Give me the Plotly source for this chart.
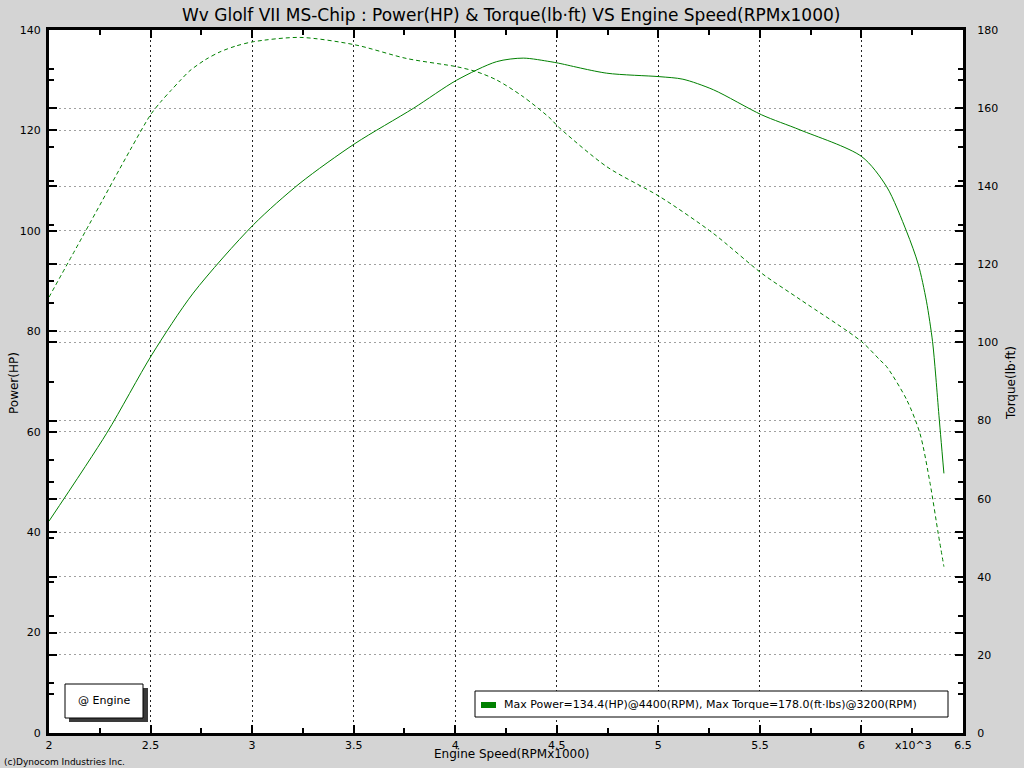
import plotly.graph_objects as go

# ---- data ----
power_rpm = [2.0, 2.284, 2.506, 2.710, 3.006, 3.236, 3.507, 3.794, 4.007, 4.204, 4.335, 4.467,
             4.508, 4.746, 5.008, 5.121, 5.271, 5.509, 5.698, 6.001, 6.124, 6.223, 6.280,
             6.320, 6.350, 6.365, 6.380, 6.406]
power_hp = [42.2, 59.7, 75.3, 87.6, 101.2, 109.5, 117.4, 124.4, 130.0, 133.7, 134.4, 133.7,
            133.4, 131.4, 130.7, 130.2, 128.1, 123.1, 120.1, 114.8, 108.8, 99.8, 93.3,
            86.0, 78.0, 71.5, 64.0, 51.7]

torque_rpm = [2.0, 2.2, 2.4, 2.5, 2.55, 2.6, 2.65, 2.694, 2.77, 2.842, 2.92, 3.006, 3.236, 3.507,
              3.761, 4.007, 4.106, 4.204, 4.335, 4.467, 4.508, 4.746, 5.008, 5.271, 5.509, 5.698,
              6.001, 6.091, 6.124, 6.223, 6.288, 6.338, 6.378, 6.406]
torque_lbft = [111.6, 130.4, 149.3, 158.3, 161.6, 164.5, 167.3, 169.6, 172.4, 174.4, 175.9, 177.0,
               178.1, 176.2, 172.7, 170.6, 169.3, 167.2, 162.9, 157.4, 155.2, 145.0, 137.3, 127.9,
               117.7, 111.0, 100.2, 95.5, 93.8, 85.3, 76.7, 63.9, 51.1, 42.6]

x_ticks = [2, 2.5, 3, 3.5, 4, 4.5, 5, 5.5, 6, 6.5]
x_tick_labels = ["2", "2.5", "3", "3.5", "4", "4.5", "5", "5.5", "6", "6.5"]

title_text = "Wv Glolf VII MS-Chip : Power(HP) & Torque(lb·ft) VS Engine Speed(RPMx1000)"
legend_text = "Max Power=134.4(HP)@4400(RPM), Max Torque=178.0(ft·lbs)@3200(RPM)"

# ---- layout geometry ----
W, H = 1024, 768
L, R, T, B = 49, 963, 30, 733
GREEN = "#008000"
FONT = "DejaVu Sans"


def px(x):
    return (x - L) / (R - L)


def py(y):
    return (B - y) / (B - T)


fig = go.Figure()
fig.add_trace(go.Scatter(x=power_rpm, y=power_hp, mode="lines",
                         line=dict(color=GREEN, width=1, shape="spline", smoothing=0.8),
                         yaxis="y", showlegend=False, hoverinfo="skip"))
fig.add_trace(go.Scatter(x=torque_rpm, y=torque_lbft, mode="lines",
                         line=dict(color=GREEN, width=1, dash="4px,3px", shape="spline", smoothing=0.8),
                         yaxis="y2", showlegend=False, hoverinfo="skip"))

axis_common = dict(showline=True, linecolor="black", linewidth=3, mirror="ticks", ticks="inside",
                   ticklen=8, tickwidth=2, tickcolor="black", zeroline=False, automargin=False,
                   tickfont=dict(family=FONT, size=11, color="black"))
H_GRID = dict(showgrid=True, gridcolor="#a0a0a0", griddash="2px,3px", gridwidth=1)

fig.update_layout(
    width=W, height=H,
    margin=dict(l=L, r=W - R, t=T, b=H - B, autoexpand=False),
    paper_bgcolor="#d4d4d4", plot_bgcolor="white",
    font=dict(family=FONT, color="black"),
    xaxis=dict(range=[2, 6.5], tickvals=x_ticks, ticktext=x_tick_labels,
               showgrid=True, gridcolor="#222222", griddash="2px,3px", gridwidth=1,
               minor=dict(dtick=0.25, ticks="inside", ticklen=5, tickwidth=2, tickcolor="black", showgrid=False),
               ticklabelstandoff=0, **axis_common),
    yaxis=dict(range=[0, 140], dtick=20,
               minor=dict(dtick=10, ticks="inside", ticklen=5, tickwidth=2, tickcolor="black", showgrid=False),
               ticklabelstandoff=3, **H_GRID, **axis_common),
    yaxis2=dict(range=[0, 180], dtick=20, overlaying="y", side="right",
                minor=dict(dtick=10, ticks="inside", ticklen=5, tickwidth=2, tickcolor="black", showgrid=False),
                ticklabelstandoff=9, **H_GRID, **axis_common),
    showlegend=False,
)

shapes = [
    # @ Engine box shadow and box
    dict(type="rect", xref="paper", yref="paper", x0=px(69), x1=px(148), y0=py(688), y1=py(722),
         fillcolor="#3a3a3a", line=dict(width=0)),
    dict(type="rect", xref="paper", yref="paper", x0=px(65), x1=px(143), y0=py(684), y1=py(718),
         fillcolor="white", line=dict(color="black", width=1)),
    # legend box
    dict(type="rect", xref="paper", yref="paper", x0=px(475), x1=px(948), y0=py(691), y1=py(717),
         fillcolor="white", line=dict(color="black", width=1)),
    dict(type="rect", xref="paper", yref="paper", x0=px(481), x1=px(496), y0=py(702), y1=py(708),
         fillcolor=GREEN, line=dict(width=0)),
]
fig.update_layout(shapes=shapes)

annotations = [
    dict(text=title_text, xref="paper", yref="paper", x=px(511), y=py(15), showarrow=False,
         font=dict(family=FONT, size=17, color="black"), xanchor="center", yanchor="middle"),
    dict(text="Engine Speed(RPMx1000)", xref="paper", yref="paper", x=px(512), y=py(754), showarrow=False,
         font=dict(family=FONT, size=12, color="black"), xanchor="center", yanchor="middle"),
    dict(text="x10^3", xref="paper", yref="paper", x=px(913), y=py(745), showarrow=False,
         font=dict(family=FONT, size=11, color="black"), xanchor="center", yanchor="middle"),
    dict(text="Power(HP)", xref="paper", yref="paper", x=px(14), y=py(383), showarrow=False, textangle=-90,
         font=dict(family=FONT, size=12, color="black"), xanchor="center", yanchor="middle"),
    dict(text="Torque(lb·ft)", xref="paper", yref="paper", x=px(1011), y=py(383), showarrow=False, textangle=-90,
         font=dict(family=FONT, size=12, color="black"), xanchor="center", yanchor="middle"),
    dict(text="@ Engine", xref="paper", yref="paper", x=px(104), y=py(700), showarrow=False,
         font=dict(family=FONT, size=11, color="black"), xanchor="center", yanchor="middle"),
    dict(text=legend_text, xref="paper", yref="paper", x=px(502), y=py(704), showarrow=False,
         font=dict(family=FONT, size=11, color="black"), xanchor="left", yanchor="middle"),
    dict(text="(c)Dynocom Industries Inc.", xref="paper", yref="paper", x=px(2), y=py(762), showarrow=False,
         font=dict(family=FONT, size=9, color="black"), xanchor="left", yanchor="middle"),
]
fig.update_layout(annotations=annotations)

fig.write_html("out.html", config={"displayModeBar": False},
               post_script="document.body.style.margin='0';document.body.style.overflow='hidden';")
